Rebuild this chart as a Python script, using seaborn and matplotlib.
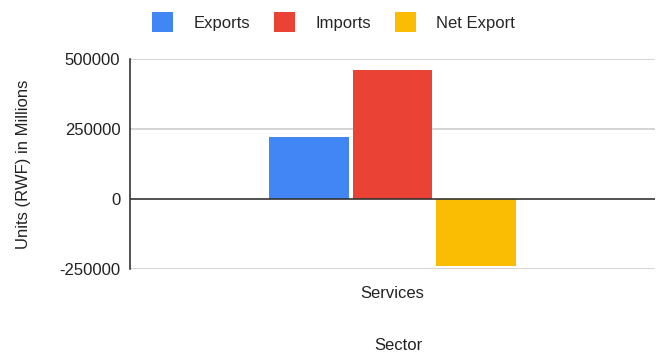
import matplotlib
matplotlib.use("Agg")
import matplotlib.pyplot as plt
from matplotlib.patches import Patch
import seaborn as sns
import pandas as pd

# Data
sectors = ["Services"]
series = ["Exports", "Imports", "Net Export"]
values = [220000, 460000, -240000]
colors = ["#4285F4", "#EA4335", "#FBBC04"]
yticks = [-250000, 0, 250000, 500000]

df = pd.DataFrame({
    "Sector": sectors * len(series),
    "Series": series,
    "Value": values,
})

sns.set_theme(style="white")
plt.rcParams["font.family"] = ["Liberation Sans", "DejaVu Sans"]

fig = plt.figure(figsize=(6.58, 3.52), dpi=100)
ax = fig.add_axes([130 / 658, 1 - 269 / 352, 525 / 658, 210 / 352])

sns.barplot(data=df, x="Sector", y="Value", hue="Series", palette=colors,
            hue_order=series, width=0.476, gap=0.04, ax=ax, legend=False,
            saturation=1, linewidth=0)

ax.set_xlim(-0.5, 0.5)
ax.set_ylim(-250000, 500000)
ax.set_yticks(yticks)
ax.set_yticklabels([str(v) for v in yticks], fontsize=12, color="#222222")
ax.tick_params(axis="x", labelsize=12, colors="#222222", length=0, pad=12)
ax.tick_params(axis="y", length=0, pad=7)

for y in [-250000, 250000, 500000]:
    ax.axhline(y, color="#cccccc", linewidth=1.2, zorder=0)
ax.axhline(0, color="#333333", linewidth=1.2, zorder=3)

for side in ["top", "right", "bottom"]:
    ax.spines[side].set_visible(False)
ax.spines["left"].set_color("#333333")
ax.spines["left"].set_linewidth(1.2)

ax.set_xlabel("Sector", fontsize=12, color="#222222")
ax.xaxis.set_label_coords(0.512, -0.33)
ax.set_ylabel("Units (RWF) in Millions", fontsize=12, color="#222222")
ax.yaxis.set_label_coords(-0.188, 0.5)

handles = [Patch(facecolor=c, edgecolor="none", label=s) for s, c in zip(series, colors)]
fig.legend(handles=handles, loc="center", bbox_to_anchor=(0.507, 1 - 22 / 352),
           ncol=3, frameon=False, fontsize=12, handlelength=1.26, handleheight=1.45,
           handletextpad=1.2, columnspacing=1.45)

fig.savefig("out.png", dpi=100, facecolor="white")
